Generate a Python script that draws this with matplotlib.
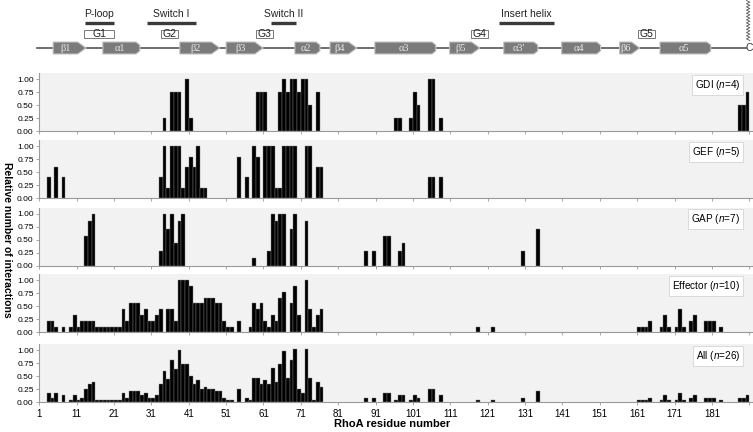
import numpy as np
import matplotlib.pyplot as plt
from matplotlib.patches import Polygon, Rectangle

plt.rcParams['font.family'] = ['Liberation Sans', 'DejaVu Sans']
plt.rcParams['mathtext.fontset'] = 'custom'
plt.rcParams['mathtext.rm'] = 'Liberation Sans'
plt.rcParams['mathtext.it'] = 'Liberation Sans:italic'

# ---- interaction data (residue, relative number of interactions) ----
gdi_res = [34, 36, 37, 38, 40, 41, 59, 60, 61, 65, 66, 67, 68, 69, 70, 71, 72, 73, 75,
           96, 97, 100, 101, 102, 105, 106, 108, 188, 189, 190]
gdi_val = [.25, .75, .75, .75, 1, .25, .75, .75, .75, .75, 1, .75, 1, 1, .75, 1, 1, .5, .75,
           .25, .25, .25, .75, .5, 1, 1, .25, .5, .5, .75]

gef_res = [3, 5, 7, 33, 34, 35, 36, 37, 38, 39, 40, 41, 42, 43, 44, 45,
           54, 56, 58, 59, 61, 62, 63, 64, 65, 66, 67, 68, 69, 72, 73, 75, 76, 105, 106, 108]
gef_val = [.4, .6, .4, .4, 1, .2, 1, 1, 1, .2, .6, .8, .6, 1, .2, .2,
           .8, .4, 1, .8, 1, 1, 1, .2, .2, 1, 1, 1, 1, 1, 1, .6, .6, .4, .4, .4]

gap_res = [13, 14, 15, 33, 34, 35, 36, 37, 38, 39, 58, 62, 63, 64, 65, 66, 68, 69, 72,
           88, 90, 93, 94, 97, 98, 130, 134]
gap_sevenths = [4, 6, 7, 2, 7, 5, 7, 3, 6, 7, 1, 2, 7, 6, 7, 7, 5, 7, 6,
                2, 2, 4, 4, 2, 3, 2, 5]

eff_res = [3, 4, 5, 7, 9, 10, 11, 12, 13, 14, 15, 16, 17, 18, 19, 20, 21, 22,
           23, 24, 25, 26, 27, 28, 29, 30, 31, 32, 33, 35, 36, 37, 38, 39, 40, 41,
           42, 43, 44, 45, 46, 47, 48, 49, 50, 51, 52, 54, 57, 58, 59, 60, 61, 62,
           63, 64, 65, 66, 68, 69, 70, 72, 73, 74, 75, 76, 118, 122,
           161, 162, 163, 164, 167, 168, 169, 171, 172, 173, 175, 176, 179, 180, 181, 183]
eff_ninths = [2, 2, 1, 1, 1, 3, 1, 2, 2, 2, 2, 1, 1, 1, 1, 1, 1, 1,
              4, 2, 5, 5, 5, 3, 4, 2, 2, 3, 4, 4, 4, 2, 9, 9, 9, 8,
              5, 5, 5, 6, 6, 6, 5, 5, 2, 1, 1, 2, 1, 5, 4, 5, 2, 1,
              3, 2, 6, 7, 5, 8, 3, 9, 4, 1, 3, 4, 1, 1,
              1, 1, 1, 2, 1, 3, 1, 1, 4, 1, 2, 3, 2, 2, 2, 1]

all_res = [3, 4, 5, 7, 9, 10, 11, 12, 13, 14, 15, 16, 17, 18, 19, 20, 21, 22,
           23, 24, 25, 26, 27, 28, 29, 30, 31, 32, 33, 34, 35, 36, 37, 38, 39, 40,
           41, 42, 43, 44, 45, 46, 47, 48, 49, 50, 51, 52, 54, 56, 57, 58, 59, 60,
           61, 62, 63, 64, 65, 66, 67, 68, 69, 70, 71, 72, 73, 74, 75, 76,
           88, 90, 93, 94, 96, 97, 98, 100, 101, 102, 105, 106, 108, 118, 122, 130, 134,
           161, 162, 163, 164, 167, 168, 169, 171, 172, 173, 175, 176, 179, 180, 181, 183,
           188, 189, 190]
all_val = [.18, .09, .18, .14, .05, .14, .05, .09, .26, .35, .39, .05, .05, .05, .05, .05, .05, .05,
           .18, .09, .22, .22, .22, .14, .18, .09, .09, .14, .35, .60, .44, .82, .64, 1.0, .73, .73,
           .50, .35, .43, .26, .30, .26, .26, .22, .22, .09, .05, .05, .26, .09, .05, .47, .47, .35,
           .43, .35, .65, .39, .73, .98, .47, .82, 1.03, .26, .18, 1.03, .47, .05, .39, .30,
           .09, .09, .18, .18, .05, .14, .14, .05, .14, .09, .26, .26, .14, .05, .05, .09, .22,
           .05, .05, .05, .09, .05, .14, .05, .05, .18, .05, .09, .14, .09, .09, .09, .05,
           .09, .09, .14]

panel_names = ['GDI', 'GEF', 'GAP', 'Effector', 'All']
panel_n = [4, 5, 7, 10, 26]
panel_res = [gdi_res, gef_res, gap_res, eff_res, all_res]
panel_val = [gdi_val, gef_val, [v / 7 for v in gap_sevenths],
             [v / 9 for v in eff_ninths], all_val]

# ---- secondary structure of RhoA (residue ranges) ----
ss_names = ['β1', 'α1', 'β2', 'β3', 'α2', 'β4', 'α3', 'β5', 'α3\'', 'α4', 'β6', 'α5']
ss_start = [4.7, 18.0, 38.6, 51.0, 69.4, 78.8, 90.8, 110.8, 125.3, 140.8, 156.3, 167.1]
ss_end = [13.5, 27.9, 49.3, 60.9, 76.1, 86.0, 107.1, 118.9, 134.4, 151.2, 161.7, 180.7]

region_names = ['P-loop', 'Switch I', 'Switch II', 'Insert helix']
region_start = [13.2, 29.8, 63.0, 124.0]
region_end = [21.0, 42.9, 69.7, 138.7]

motif_names = ['G1', 'G2', 'G3', 'G4', 'G5']
motif_start = [13.0, 33.6, 59.0, 116.5, 161.2]
motif_end = [21.0, 38.1, 63.6, 121.1, 165.8]

W, H = 753, 432
X0, X1 = 39.3, 753
XLIM = (1, 192)
fig = plt.figure(figsize=(W / 100, H / 100), dpi=100)


def px_axes(left, top, right, bottom):
    return fig.add_axes([left / W, 1 - bottom / H, (right - left) / W, (bottom - top) / H])


# ---- panels ----
bottoms = [131.3, 198.3, 265.7, 332.3, 402.3]
axes = []
for i, name in enumerate(panel_names):
    ax = px_axes(X0, bottoms[i] - 58, X1, bottoms[i])
    ax.set_facecolor('#f2f2f2')
    ax.bar(panel_res[i], panel_val[i], width=1, align='edge', color='black',
           edgecolor='#7f7f7f', linewidth=0.3)
    ax.set_xlim(*XLIM)
    ax.set_ylim(0, 1.115)
    for s in ['top', 'right']:
        ax.spines[s].set_visible(False)
    for s in ['left', 'bottom']:
        ax.spines[s].set_color('#999999')
        ax.spines[s].set_linewidth(0.8)
    ax.set_yticks([0, .25, .5, .75, 1])
    ax.set_yticklabels(['0.00', '0.25', '0.50', '0.75', '1.00'])
    ticks = list(range(1, 192, 10))
    ax.set_xticks(ticks)
    if i == len(panel_names) - 1:
        ax.set_xticklabels([str(t) if t <= 181 else '' for t in ticks])
    else:
        ax.set_xticklabels([])
    ax.tick_params(length=2.5, width=0.6, color='#999999', labelsize=6, pad=1.5)
    ax.tick_params(axis='x', labelsize=7, pad=2)
    ax.text(0.982, 0.805, name + r' ($n$=' + str(panel_n[i]) + ')', transform=ax.transAxes,
            ha='right', va='center', fontsize=7.2,
            bbox=dict(boxstyle='square,pad=0.3', fc='white', ec='#d5d5d5', lw=0.6))
    axes.append(ax)

fig.text(7 / W, 1 - 240 / H, 'Relative number of interactions', rotation=-90,
         ha='center', va='center', fontsize=7.5, weight='bold')
fig.text(392 / W, 1 - 424 / H, 'RhoA residue number', ha='center', va='center',
         fontsize=8, weight='bold')

# ---- secondary structure diagram ----
top = px_axes(X0, 0, X1, 60)
top.set_xlim(*XLIM)
top.set_ylim(60, 0)
top.axis('off')

top.plot([0.5, 190.2], [48, 48], color='#555555', lw=1.2, clip_on=False, zorder=1)
for name, s, e in zip(ss_names, ss_start, ss_end):
    if name.startswith('β'):
        tip = 2.2
        pts = [(s, 42), (e - tip, 42), (e, 48), (e - tip, 54), (s, 54)]
    else:
        tip = 1.0
        pts = [(s, 42), (e - tip, 42), (e, 45), (e, 51), (e - tip, 54), (s, 54)]
    top.add_patch(Polygon(pts, closed=True, fc='#7b7b7b', ec='#c4c4c4', lw=0.8,
                          zorder=2, clip_on=False))
    top.text((s + e - tip) / 2, 48.3, name, ha='center', va='center', color='#e6e6e6',
             fontsize=7.5, family=['Liberation Serif', 'DejaVu Serif'], zorder=3)

for name, s, e in zip(region_names, region_start, region_end):
    top.plot([s, e], [22.7, 22.7], color='#3a3a3a', lw=2.4, solid_capstyle='butt')
    top.text((s + e) / 2, 14, name, ha='center', va='center', fontsize=7.5, color='#222222')

for name, s, e in zip(motif_names, motif_start, motif_end):
    top.add_patch(Rectangle((s, 30), e - s, 8, fc='white', ec='#777777', lw=0.7))
    top.text((s + e) / 2, 34.2, name, ha='center', va='center', fontsize=7.5, color='#222222')

top.text(190.9, 48.3, 'C', ha='center', va='center', fontsize=7.5, color='#333333',
         clip_on=False)
zy = np.arange(0.5, 41, 1.6)
zx = 190.7 + 0.45 * np.where(np.arange(len(zy)) % 2 == 0, -1, 1)
top.plot(zx, zy, color='#555555', lw=0.6, clip_on=False)

fig.savefig('out.png', dpi=100)
